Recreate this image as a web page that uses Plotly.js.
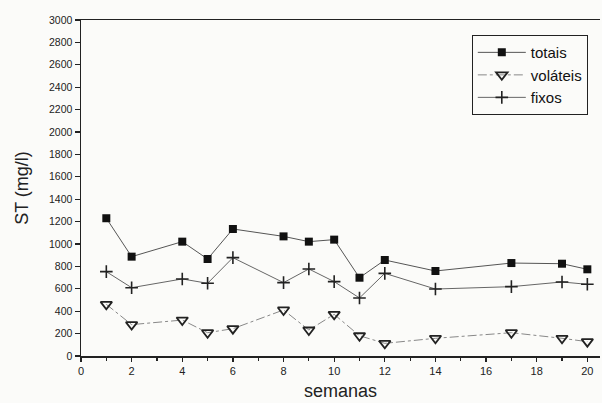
<!DOCTYPE html>
<html><head><meta charset="utf-8">
<script src="https://cdn.plot.ly/plotly-3.0.1.min.js"></script>
<style>html,body{margin:0;padding:0;background:#fbfbf9;}</style>
</head><body>
<div id="chart" style="width:602px;height:403px;"></div>
<script>
const semanas = [1, 2, 4, 5, 6, 8, 9, 10, 11, 12, 14, 17, 19, 20];
const totais = [1230, 887, 1021, 866, 1134, 1068, 1021, 1039, 699, 857, 759, 830, 824, 774];
const volateis = [461, 280, 321, 208, 244, 411, 232, 372, 181, 113, 158, 208, 158, 128];
const fixos = [753, 610, 688, 649, 878, 655, 777, 664, 518, 738, 598, 619, 661, 640];

const traces = [
  {x: semanas, y: totais, name: 'totais', mode: 'lines+markers',
   line: {color: '#555', width: 1},
   marker: {symbol: 'square', size: 8, color: '#111'}},
  {x: semanas, y: volateis, name: 'voláteis', mode: 'lines+markers',
   line: {color: '#888', width: 1, dash: 'dashdot'},
   marker: {symbol: 'triangle-down-open', size: 10, color: '#222', line: {width: 1.8}}},
  {x: semanas, y: fixos, name: 'fixos', mode: 'lines+markers',
   line: {color: '#666', width: 1},
   marker: {symbol: 'cross-thin-open', size: 9, color: '#222', line: {width: 1.6, color: '#222'}}}
];

const layout = {
  width: 602, height: 403,
  margin: {l: 81, r: 2, t: 20, b: 47},
  paper_bgcolor: '#fbfbf9', plot_bgcolor: '#fbfbf9',
  font: {family: 'Arial, Liberation Sans, sans-serif', color: '#222'},
  showlegend: true,
  legend: {x: 0.753, y: 0.955, xanchor: 'left', yanchor: 'top',
    bgcolor: '#fbfbf9', bordercolor: '#222', borderwidth: 1,
    font: {size: 15, color: '#111'}, tracegroupgap: 0, itemwidth: 48},
  xaxis: {range: [0, 20.5], dtick: 2, tick0: 0, ticks: 'outside', ticklen: 4, tickwidth: 1.2,
    tickcolor: '#222', showline: true, linecolor: '#222', linewidth: 1.5, mirror: true,
    showgrid: false, zeroline: false, tickfont: {size: 11, color: '#222'},
    minor: {dtick: 1, ticks: 'outside', ticklen: 3, tickcolor: '#222'},
    title: {text: 'semanas', font: {size: 18, color: '#222'}, standoff: 8}},
  yaxis: {range: [0, 3000], dtick: 200, ticks: 'outside', ticklen: 5, tickwidth: 1.2,
    tickcolor: '#222', showline: true, linecolor: '#222', linewidth: 1.5,
    showgrid: false, zeroline: false, tickfont: {size: 10.5, color: '#222'},
    title: {text: 'ST (mg/l)', font: {size: 18, color: '#222'}, standoff: 15}}
};
Plotly.newPlot('chart', traces, layout, {displayModeBar: false, staticPlot: true});
</script>
</body></html>
